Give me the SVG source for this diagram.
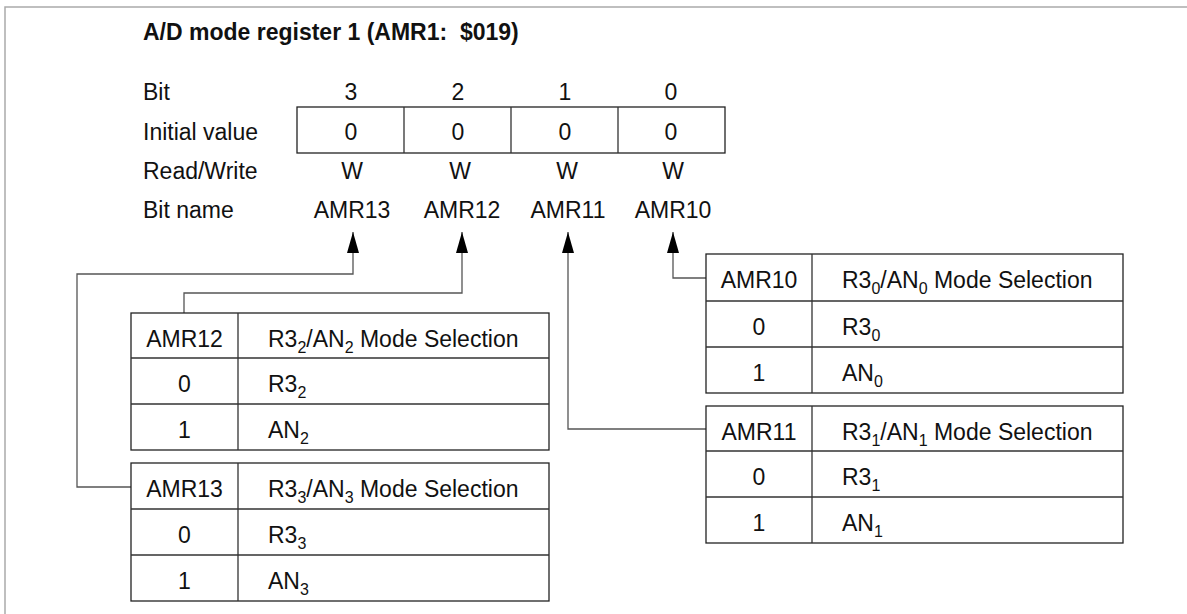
<svg xmlns="http://www.w3.org/2000/svg" width="1187" height="614" viewBox="0 0 1187 614">
<defs>
<marker id="ah" markerUnits="userSpaceOnUse" markerWidth="21" markerHeight="12" viewBox="0 0 21 12" refX="21" refY="6" orient="auto"><path d="M0,0 L21,6 L0,12 z" fill="#000"/></marker>
</defs>
<style>
text{font-family:"Liberation Sans",Arial,sans-serif;font-size:23px;fill:#111}
.t{font-weight:bold}
.c{text-anchor:middle}
.s{font-size:16px}
.cell{fill:none;stroke:#222;stroke-width:1.3}
.ln{stroke:#333;stroke-width:1.3}
.conn{fill:none;stroke:#555;stroke-width:1.3}
.frame{fill:none;stroke:#aaa;stroke-width:1.5}
</style>
<rect width="1187" height="614" fill="#fff"/>
<path class="frame" d="M5,614 V7 H1187"/>
<text class="t" x="143" y="40" xml:space="preserve">A/D mode register 1 (AMR1:  $019)</text>
<g id="register">
<text x="143" y="100">Bit</text>
<text x="143" y="140">Initial value</text>
<text x="143" y="179">Read/Write</text>
<text x="143" y="218">Bit name</text>
<text class="c" x="351" y="100">3</text>
<text class="c" x="458" y="100">2</text>
<text class="c" x="565" y="100">1</text>
<text class="c" x="671" y="100">0</text>
<rect class="cell" x="297" y="107" width="428" height="46"/>
<path class="ln" d="M404,107V153M511,107V153M618,107V153"/>
<text class="c" x="351" y="140">0</text>
<text class="c" x="458" y="140">0</text>
<text class="c" x="565" y="140">0</text>
<text class="c" x="671" y="140">0</text>
<text class="c" x="352" y="179">W</text>
<text class="c" x="460" y="179">W</text>
<text class="c" x="567" y="179">W</text>
<text class="c" x="673" y="179">W</text>
<text class="c" x="352" y="218">AMR13</text>
<text class="c" x="462" y="218">AMR12</text>
<text class="c" x="568" y="218">AMR11</text>
<text class="c" x="673" y="218">AMR10</text>
</g>
<g id="connectors">
<path class="conn" marker-end="url(#ah)" d="M131,487H77V274H353V232"/>
<path class="conn" marker-end="url(#ah)" d="M184,313V293H462V232"/>
<path class="conn" marker-end="url(#ah)" d="M706,429H568V232"/>
<path class="conn" marker-end="url(#ah)" d="M706,278H673V232"/>
</g>
<g id="table-amr12">
<rect class="cell" x="131" y="313" width="418" height="137"/>
<path class="ln" d="M131,358H549M131,404H549M238,313V450"/>
<text class="c" x="184.5" y="347">AMR12</text>
<text x="268" y="347">R3<tspan class="s" dy="6">2</tspan><tspan dy="-6">/AN</tspan><tspan class="s" dy="6">2</tspan><tspan dy="-6"> Mode Selection</tspan></text>
<text class="c" x="184.5" y="392">0</text>
<text x="268" y="392">R3<tspan class="s" dy="6">2</tspan></text>
<text class="c" x="184.5" y="438">1</text>
<text x="268" y="438">AN<tspan class="s" dy="6">2</tspan></text>
</g>
<g id="table-amr13">
<rect class="cell" x="131" y="463" width="418" height="138"/>
<path class="ln" d="M131,509H549M131,555H549M238,463V601"/>
<text class="c" x="184.5" y="497">AMR13</text>
<text x="268" y="497">R3<tspan class="s" dy="6">3</tspan><tspan dy="-6">/AN</tspan><tspan class="s" dy="6">3</tspan><tspan dy="-6"> Mode Selection</tspan></text>
<text class="c" x="184.5" y="543">0</text>
<text x="268" y="543">R3<tspan class="s" dy="6">3</tspan></text>
<text class="c" x="184.5" y="589">1</text>
<text x="268" y="589">AN<tspan class="s" dy="6">3</tspan></text>
</g>
<g id="table-amr10">
<rect class="cell" x="706" y="254" width="417" height="139"/>
<path class="ln" d="M706,301H1123M706,347H1123M812,254V393"/>
<text class="c" x="759" y="288">AMR10</text>
<text x="842" y="288">R3<tspan class="s" dy="6">0</tspan><tspan dy="-6">/AN</tspan><tspan class="s" dy="6">0</tspan><tspan dy="-6"> Mode Selection</tspan></text>
<text class="c" x="759" y="335">0</text>
<text x="842" y="335">R3<tspan class="s" dy="6">0</tspan></text>
<text class="c" x="759" y="381">1</text>
<text x="842" y="381">AN<tspan class="s" dy="6">0</tspan></text>
</g>
<g id="table-amr11">
<rect class="cell" x="706" y="406" width="417" height="137"/>
<path class="ln" d="M706,451H1123M706,497H1123M812,406V543"/>
<text class="c" x="759" y="440">AMR11</text>
<text x="842" y="440">R3<tspan class="s" dy="6">1</tspan><tspan dy="-6">/AN</tspan><tspan class="s" dy="6">1</tspan><tspan dy="-6"> Mode Selection</tspan></text>
<text class="c" x="759" y="485">0</text>
<text x="842" y="485">R3<tspan class="s" dy="6">1</tspan></text>
<text class="c" x="759" y="531">1</text>
<text x="842" y="531">AN<tspan class="s" dy="6">1</tspan></text>
</g>
</svg>
